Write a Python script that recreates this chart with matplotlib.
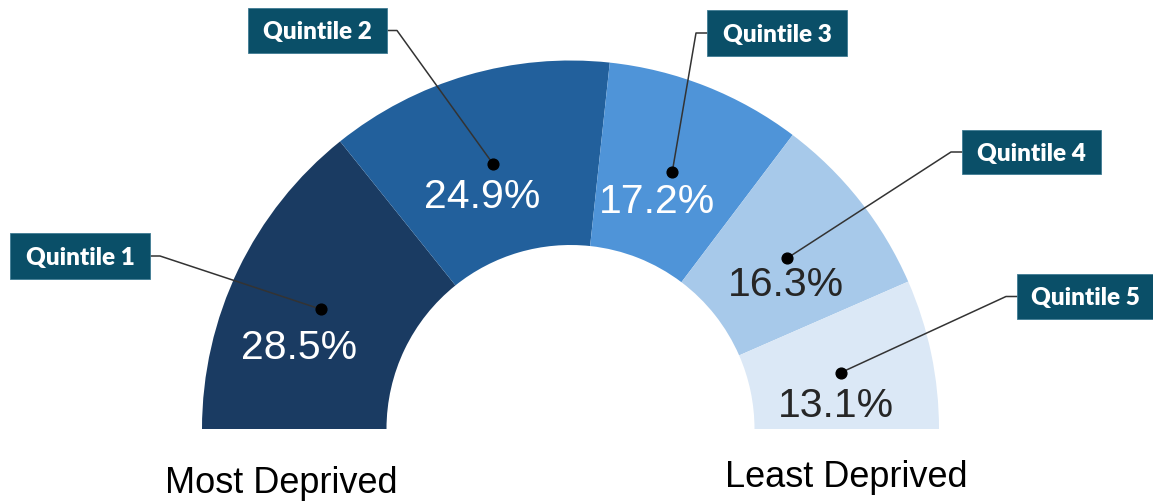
import matplotlib.pyplot as plt
from matplotlib.patches import Rectangle
import numpy as np

# data
categories = ["Quintile 1", "Quintile 2", "Quintile 3", "Quintile 4", "Quintile 5"]
shares = [28.5, 24.9, 17.2, 16.3, 13.1]
end_labels = ["Most Deprived", "Least Deprived"]

colors = ["#1a3b62", "#22609c", "#4f94d8", "#a7c9ea", "#dbe8f6"]
text_colors = ["white", "white", "white", "#262626", "#262626"]

W, H = 1153, 502
fig = plt.figure(figsize=(W / 100, H / 100), dpi=100)
ax = fig.add_axes([0, 0, 1, 1])

def py(y):
    # pixel row (from top) -> axes y
    return H - y

cx, cy = 570.5, py(430)
R, r = 368.5, 184.0

total = sum(shares)
ax.pie(shares + [total], startangle=180, counterclock=False, radius=R, center=(cx, cy),
       colors=colors + ["none"], wedgeprops=dict(width=R - r, linewidth=0))

# marker dots at the middle of every segment
cum = np.cumsum([0] + shares[:-1])
mid = 180 - 180 * (cum + np.array(shares) / 2) / total
rm = (R + r) / 2
dx = cx + rm * np.cos(np.radians(mid))
dy = cy + rm * np.sin(np.radians(mid))
ax.scatter(dx, dy, s=60, color="black", zorder=5)

# percentage labels (offset from dot, in pixels)
txt_off = [(-22, -49), (-11, -43), (-15, -40), (-2, -37), (-5, -43)]
for i, v in enumerate(shares):
    ox, oy = txt_off[i]
    ax.text(dx[i] + ox, dy[i] + oy, f"{v}%", color=text_colors[i], fontsize=29.5,
            family="Liberation Sans", ha="center", va="baseline", zorder=6)

# callout boxes: left, top, width, height (pixels)
boxes = [(10, 234, 140, 46), (248, 9, 139, 45), (707, 11, 140, 46),
         (962, 131, 139, 44), (1017, 275, 136, 45)]
for i, (bx, by, bw, bh) in enumerate(boxes):
    ymid = by + bh / 2
    if dx[i] < bx:
        sx, ex = bx, bx - 11
    else:
        sx, ex = bx + bw, bx + bw + 10
    ax.plot([sx, ex, dx[i]], [py(ymid), py(ymid), dy[i]], color="#333333", lw=1.1, zorder=4)
    ax.add_patch(Rectangle((bx, py(by + bh)), bw, bh, facecolor="#0a4f68",
                           edgecolor="#3f7c93", lw=0.6, zorder=7))
    ax.text(bx + bw / 2, py(ymid) - 1, categories[i], color="white", fontsize=17.5,
            fontweight="heavy", family="Lato", ha="center", va="center", zorder=8)

ax.text(281, py(493), end_labels[0], fontsize=26, family="Liberation Sans",
        ha="center", va="baseline", color="black")
ax.text(846, py(487), end_labels[1], fontsize=26, family="Liberation Sans",
        ha="center", va="baseline", color="black")

ax.set_xlim(0, W)
ax.set_ylim(0, H)
ax.set_aspect("equal")
ax.axis("off")

fig.savefig("out.png", dpi=100, facecolor="white")
